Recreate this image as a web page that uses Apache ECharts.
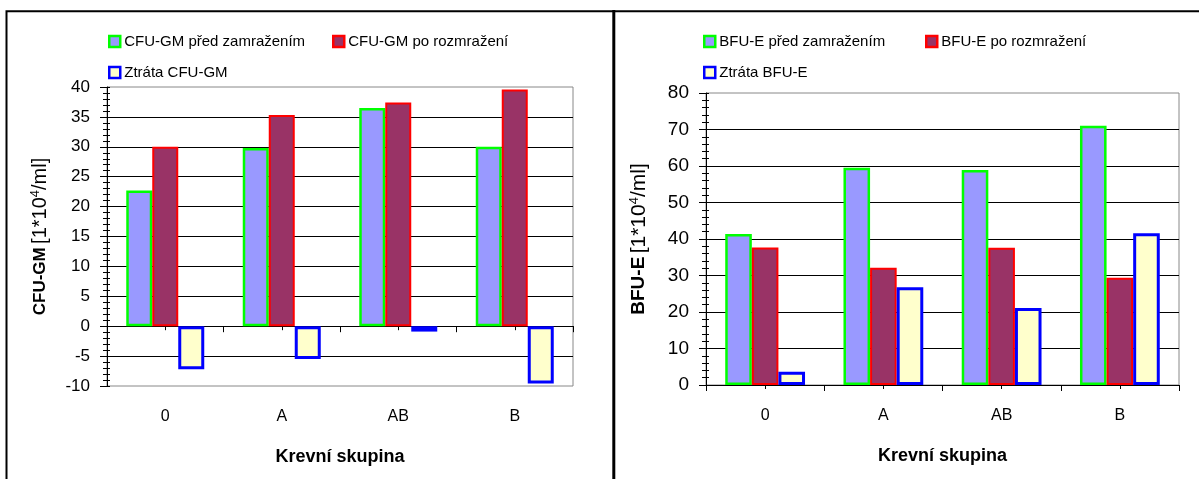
<!DOCTYPE html>
<html>
<head>
<meta charset="utf-8">
<script src="https://cdn.jsdelivr.net/npm/echarts@6/dist/echarts.min.js"></script>
<style>
html,body{margin:0;padding:0;background:#fff;}
#c{width:1199px;height:479px;}
</style>
</head>
<body>
<div id="c"></div>
<script>
const categories = ['0', 'A', 'AB', 'B'];
const cfuBefore = [22.7, 29.8, 36.5, 30.0];
const cfuAfter = [30.0, 35.3, 37.4, 39.6];
const cfuLoss = [-7.2, -5.5, -0.9, -9.6];
const bfuBefore = [41.4, 59.5, 58.9, 71.0];
const bfuAfter = [37.7, 32.1, 37.6, 29.4];
const bfuLoss = [3.6, 26.8, 21.1, 41.6];
const cfuNames = ['CFU-GM před zamražením', 'CFU-GM po rozmražení', 'Ztráta CFU-GM'];
const bfuNames = ['BFU-E před zamražením', 'BFU-E po rozmražení', 'Ztráta BFU-E'];
const xTitle = 'Krevní skupina';

const FONT = "'Liberation Sans', Arial, sans-serif";
const fills = ['#9999FF', '#993366', '#FFFFCC'];
const borders = ['#00FF00', '#FF0000', '#0000FF'];
const bw = [2.5, 2, 3];

const grids = [
  {left: 107, top: 87, width: 466, height: 299},
  {left: 706, top: 93, width: 473, height: 292}
];

function yAxes(gi, min, max, interval, bold, labelSize, boldSize, normSize) {
  return [
    {
      type: 'value', gridIndex: gi, position: 'left', min: min, max: max, interval: interval,
      axisLine: {show: true, lineStyle: {color: '#000', width: 1}},
      axisTick: {show: true, length: 7, lineStyle: {color: '#000'}},
      minorTick: {show: true, splitNumber: 5, length: 4, lineStyle: {color: '#000'}},
      axisLabel: {color: '#000', fontSize: labelSize, fontFamily: FONT, margin: 17},
      splitLine: {show: true, showMinLine: false, showMaxLine: false, lineStyle: {color: '#000', width: 1}},
      name: '{b|' + bold + '} {n|[1*10}{s|4}{n|/ml]}',
      nameLocation: 'middle', nameRotate: 90, nameGap: 56,
      nameTextStyle: {
        fontFamily: FONT, color: '#000',
        rich: {
          b: {fontSize: boldSize, fontWeight: 'bold', fontFamily: FONT, color: '#000', lineHeight: 22},
          n: {fontSize: normSize, fontFamily: FONT, color: '#000', lineHeight: 22},
          s: {fontSize: 13, fontFamily: FONT, color: '#000', verticalAlign: 'top', lineHeight: 13}
        }
      }
    },
    {
      type: 'value', gridIndex: gi, position: 'left', min: min, max: max, interval: interval,
      axisLine: {show: false},
      axisTick: {show: true, inside: true, length: 3, lineStyle: {color: '#000'}},
      minorTick: {show: true, splitNumber: 5, length: 3, lineStyle: {color: '#000'}},
      axisLabel: {show: false},
      splitLine: {show: false}
    }
  ];
}

function xAxes(gi) {
  return [
    {
      type: 'category', gridIndex: gi, data: categories, position: 'bottom',
      axisLine: {show: true, onZero: true, onZeroAxisIndex: gi * 2, lineStyle: {color: '#000', width: 1}},
      axisTick: {show: true, alignWithLabel: false, length: 6, lineStyle: {color: '#000'}},
      axisLabel: {show: false}, splitLine: {show: false}
    },
    {
      type: 'category', gridIndex: gi, data: categories, position: 'bottom',
      axisLine: {show: false, onZero: false},
      axisTick: {show: false},
      axisLabel: {show: true, color: '#000', fontSize: 16, fontFamily: FONT, margin: 23},
      name: xTitle, nameLocation: 'middle', nameGap: 62,
      nameTextStyle: {fontSize: 18, fontWeight: 'bold', color: '#000', fontFamily: FONT},
      splitLine: {show: false}
    },
    {
      type: 'category', gridIndex: gi, data: categories, position: 'bottom',
      axisLine: {show: true, onZero: true, onZeroAxisIndex: gi * 2, lineStyle: {color: '#000', width: 1}},
      axisTick: {show: true, alignWithLabel: true, inside: true, length: 5, lineStyle: {color: '#000'}},
      axisLabel: {show: false}, splitLine: {show: false}
    },
    {
      type: 'category', gridIndex: gi, data: categories, position: 'bottom',
      axisLine: {show: true, onZero: true, onZeroAxisIndex: gi * 2, lineStyle: {color: '#000', width: 1}},
      axisTick: {show: true, alignWithLabel: true, inside: false, length: 4, lineStyle: {color: '#000'}},
      axisLabel: {show: false}, splitLine: {show: false}
    }
  ];
}

function barSeries(names, datas, gi, width) {
  return datas.map((d, i) => ({
    type: 'bar', name: names[i], data: d,
    xAxisIndex: gi * 4, yAxisIndex: gi * 2,
    barWidth: width, barGap: '0%',
    itemStyle: {color: fills[i], borderColor: borders[i], borderWidth: bw[i]},
    emphasis: {disabled: true},
    animation: false
  }));
}

function legendItem(name, left, top) {
  return {
    data: [name], left: left, top: top, orient: 'horizontal',
    icon: 'rect', itemWidth: 11, itemHeight: 11, itemGap: 0,
    selectedMode: false,
    itemStyle: {borderWidth: 2.5},
    textStyle: {fontSize: 15, color: '#000', fontFamily: FONT, padding: [0, 0, 0, -1]}
  };
}

const option = {
  animation: false,
  backgroundColor: '#fff',
  grid: grids.map(g => Object.assign({show: true, borderColor: '#888', borderWidth: 1, backgroundColor: 'transparent'}, g)),
  xAxis: [].concat(xAxes(0), xAxes(1)),
  yAxis: [].concat(yAxes(0, -10, 40, 5, 'CFU-GM', 17, 17, 20), yAxes(1, 0, 80, 10, 'BFU-E', 19, 19, 21)),
  legend: [
    legendItem(cfuNames[0], 103, 29),
    legendItem(cfuNames[1], 327, 29),
    legendItem(cfuNames[2], 103, 60),
    legendItem(bfuNames[0], 698, 29),
    legendItem(bfuNames[1], 920, 29),
    legendItem(bfuNames[2], 698, 60)
  ],
  series: [].concat(
    barSeries(cfuNames, [cfuBefore, cfuAfter, cfuLoss], 0, 26),
    barSeries(bfuNames, [bfuBefore, bfuAfter, bfuLoss], 1, 26.6)
  ),
  graphic: [
    {type: 'rect', shape: {x: 6.5, y: 11.3, width: 1400, height: 1000}, style: {fill: 'none', stroke: '#000', lineWidth: 2}, silent: true, z: 100},
    {type: 'line', shape: {x1: 613.8, y1: 10, x2: 613.8, y2: 600}, style: {stroke: '#000', lineWidth: 3}, silent: true, z: 100}
  ]
};

const chart = echarts.init(document.getElementById('c'), null, {renderer: 'canvas'});
chart.setOption(option);
</script>
</body>
</html>
